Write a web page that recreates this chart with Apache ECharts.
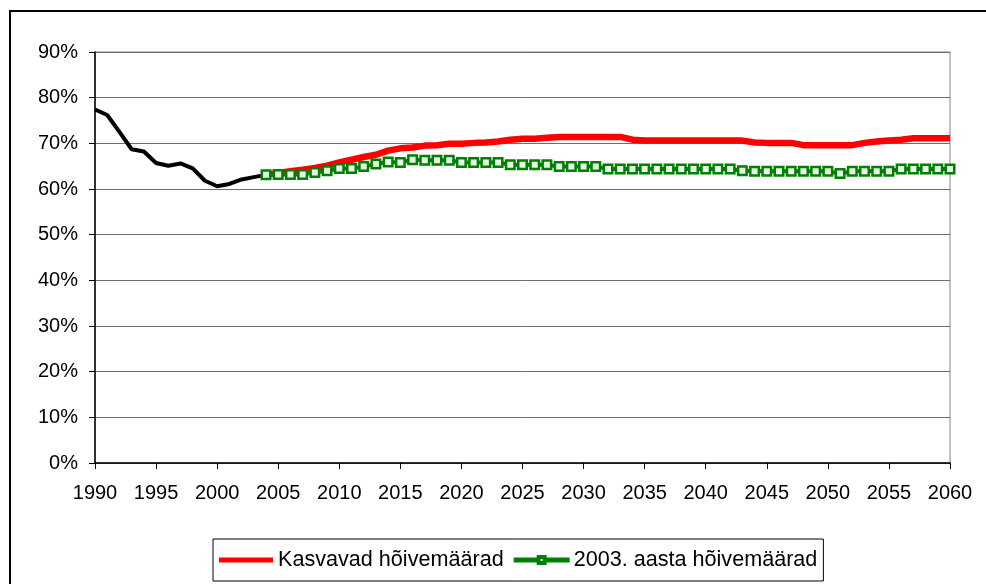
<!DOCTYPE html>
<html>
<head>
<meta charset="utf-8">
<script src="https://cdn.jsdelivr.net/npm/echarts@6/dist/echarts.min.js"></script>
<style>
  html, body { margin: 0; padding: 0; background: #fff; }
  #chart { width: 986px; height: 584px; }
</style>
</head>
<body>
<div id="chart"></div>
<script>
// ajalugu 1990-2004
var histYears = [1990, 1991, 1992, 1993, 1994, 1995, 1996, 1997, 1998, 1999, 2000, 2001, 2002, 2003, 2004];
var histValues = [77.4, 76.2, 72.5, 68.7, 68.2, 65.7, 65.1, 65.6, 64.5, 61.8, 60.6, 61.1, 62.1, 62.6, 63.1];

// prognoos 2004-2060
var projYears = [];
for (var y = 2004; y <= 2060; y++) projYears.push(y);

var kasvavad = [
  63.1, 63.5, 63.9, 64.2, 64.6, 65.1, 65.8, 66.4, 67.0, 67.5,   // 2004-2013
  68.4, 68.9, 69.1, 69.5, 69.6, 69.9, 69.9, 70.1, 70.2, 70.4,   // 2014-2023
  70.8, 71.0, 71.0, 71.2, 71.4, 71.4, 71.4, 71.4, 71.4, 71.4,   // 2024-2033
  70.8, 70.6, 70.6, 70.6, 70.6, 70.6, 70.6, 70.6, 70.6, 70.6,   // 2034-2043
  70.2, 70.1, 70.1, 70.1, 69.6, 69.6, 69.6, 69.6, 69.6, 70.1,   // 2044-2053
  70.4, 70.6, 70.8, 71.1, 71.1, 71.1, 71.1                      // 2054-2060
];
var aasta2003 = [
  63.1, 63.2, 63.2, 63.2, 63.6, 64.0, 64.5, 64.5, 64.9, 65.5,   // 2004-2013
  65.9, 65.8, 66.4, 66.3, 66.3, 66.3, 65.8, 65.8, 65.8, 65.8,   // 2014-2023
  65.3, 65.3, 65.3, 65.3, 64.9, 64.9, 64.9, 64.9, 64.4, 64.4,   // 2024-2033
  64.4, 64.4, 64.4, 64.4, 64.4, 64.4, 64.4, 64.4, 64.4, 64.0,   // 2034-2043
  63.9, 63.9, 63.9, 63.9, 63.9, 63.9, 63.9, 63.4, 63.9, 63.9,   // 2044-2053
  63.9, 63.9, 64.4, 64.4, 64.4, 64.4, 64.4                      // 2054-2060
];

var seriesNames = ['Kasvavad hõivemäärad', '2003. aasta hõivemäärad'];

function pairs(xs, vs) {
  return xs.map(function (x, i) { return [x, vs[i]]; });
}

var chart = echarts.init(document.getElementById('chart'));
var font = 'Liberation Sans, Arial, sans-serif';

// legendi ikoonid: paks punane joon; roheline joon ruuduga keskel
var redIcon = 'path://M0,0 L54,0 L54,5 L0,5 Z';
var greenIcon = 'path://M0,3.5 L23,3.5 L23,6.5 L0,6.5 Z M31,3.5 L54,3.5 L54,6.5 L31,6.5 Z ' +
  'M23,1 L31,1 L31,9 L23,9 Z M25,3 L25,7 L29,7 L29,3 Z';

chart.setOption({
  animation: false,
  textStyle: { fontFamily: font },
  graphic: [{
    type: 'rect',
    shape: { x: 10, y: 11, width: 1100, height: 700 },
    style: { fill: 'none', stroke: '#000', lineWidth: 2 },
    silent: true
  }],
  grid: { left: 95, right: 36, top: 52, bottom: 121, show: true, borderColor: '#808080', borderWidth: 1 },
  legend: {
    data: [
      { name: seriesNames[0], icon: redIcon, itemStyle: { color: '#ff0000' } },
      { name: seriesNames[1], icon: greenIcon, itemStyle: { color: '#008000' } }
    ],
    left: 213,
    top: 539,
    itemWidth: 54,
    itemHeight: 10,
    itemGap: 10,
    padding: [10, 6, 10, 6],
    borderColor: '#000',
    borderWidth: 1,
    textStyle: { fontSize: 21.6, color: '#000', fontFamily: font }
  },
  xAxis: {
    type: 'value',
    min: 1990,
    max: 2060,
    interval: 5,
    axisLine: { lineStyle: { color: '#000', width: 1.5 } },
    axisTick: { show: true, length: 6, lineStyle: { color: '#000' } },
    axisLabel: { fontSize: 20, color: '#000', margin: 20, fontFamily: font, formatter: function (v) { return String(v); } },
    splitLine: { show: false }
  },
  yAxis: {
    type: 'value',
    min: 0,
    max: 90,
    interval: 10,
    axisLine: { show: true, lineStyle: { color: '#000', width: 1.5 } },
    axisTick: { show: true, length: 6, lineStyle: { color: '#000' } },
    axisLabel: { fontSize: 20, color: '#000', margin: 17, fontFamily: font, formatter: '{value}%' },
    splitLine: { show: true, lineStyle: { color: '#6e6e6e', width: 1 } }
  },
  series: [
    {
      name: 'ajalugu',
      type: 'line',
      data: pairs(histYears, histValues),
      symbol: 'none',
      lineStyle: { color: '#000', width: 4 },
      itemStyle: { color: '#000' },
      z: 3
    },
    {
      name: seriesNames[0],
      type: 'line',
      data: pairs(projYears, kasvavad),
      symbol: 'none',
      lineStyle: { color: '#ff0000', width: 6.5 },
      itemStyle: { color: '#ff0000' },
      z: 2
    },
    {
      name: seriesNames[1],
      type: 'line',
      data: pairs(projYears, aasta2003),
      symbol: 'rect',
      symbolSize: 8.5,
      showAllSymbol: true,
      lineStyle: { color: '#008000', width: 4 },
      itemStyle: { color: '#e8f5e8', borderColor: '#008000', borderWidth: 2.5 },
      z: 4
    }
  ]
});
</script>
</body>
</html>
